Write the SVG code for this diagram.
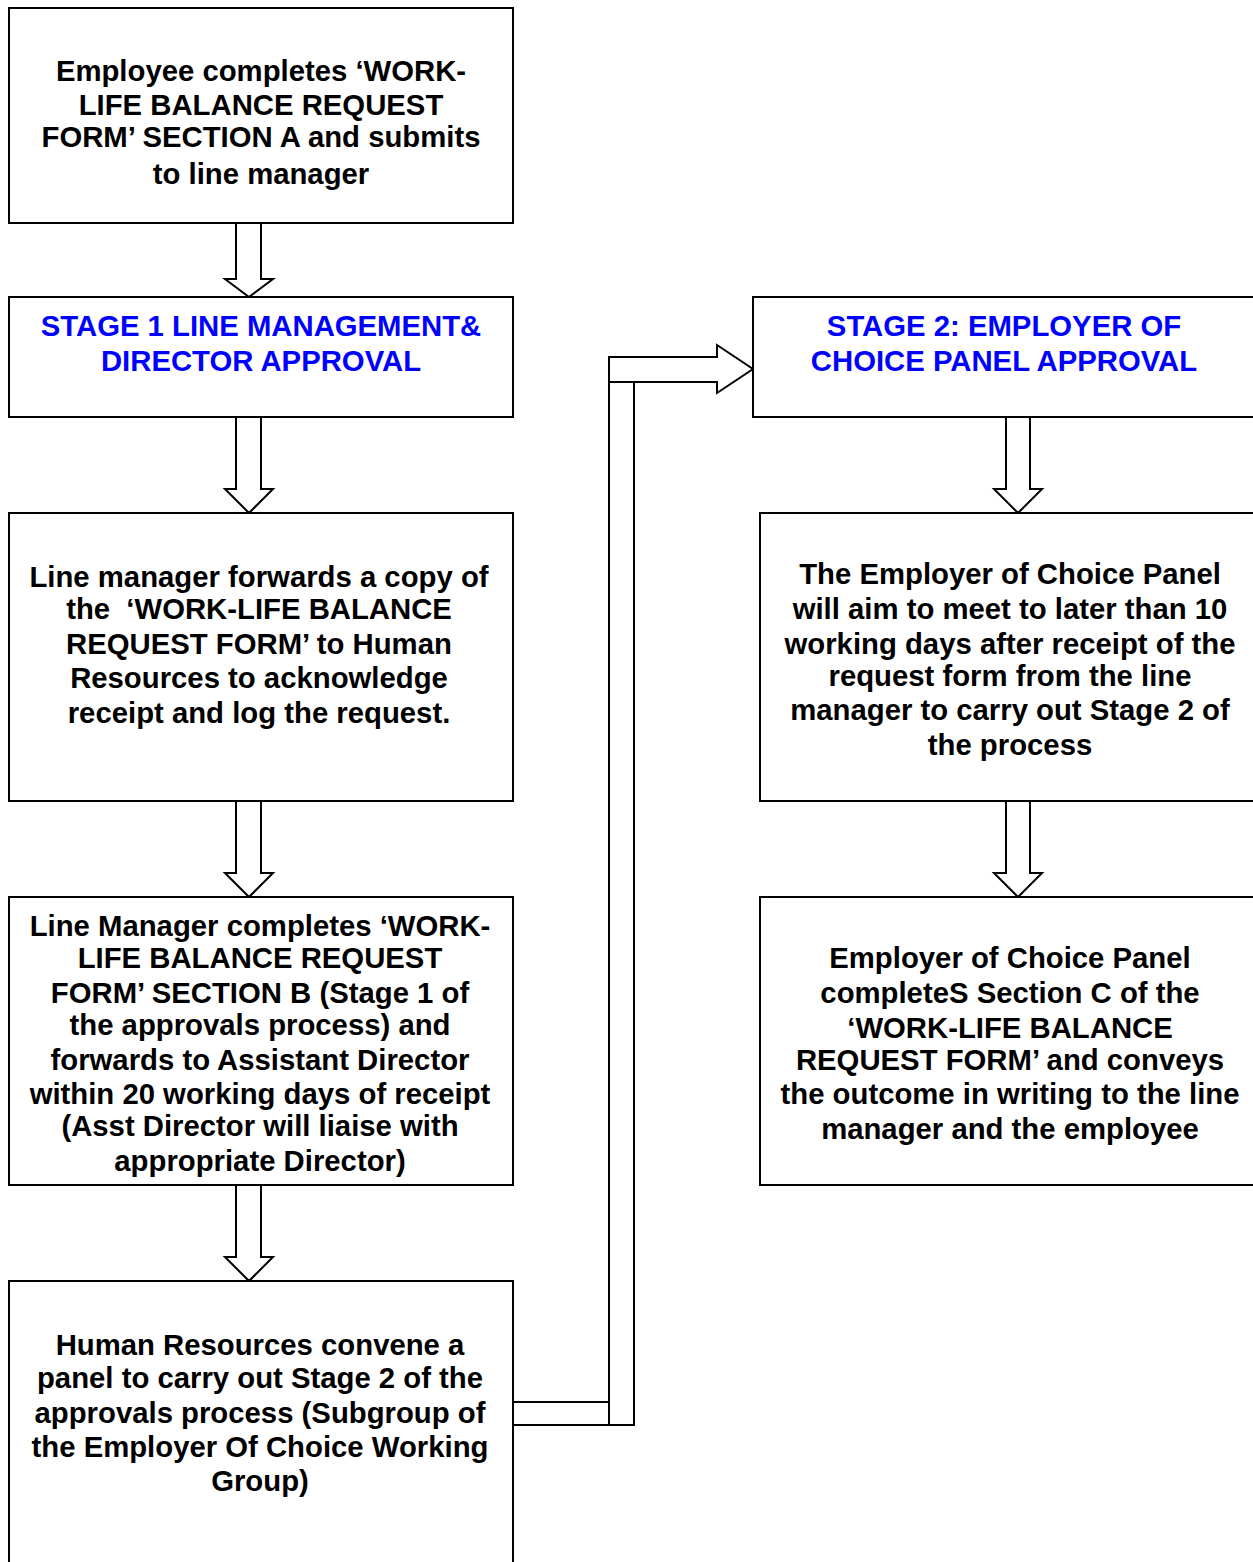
<svg xmlns="http://www.w3.org/2000/svg" width="1253" height="1562" viewBox="0 0 1253 1562">
<style>
.box{fill:#fff;stroke:#000;stroke-width:2}
.t{font-family:"Liberation Sans",Arial,sans-serif;font-weight:bold;font-size:29.3px;text-anchor:middle;fill:#000;white-space:pre}
.b{fill:#0000ff}
.arr{fill:#fff;stroke:#000;stroke-width:2;stroke-linejoin:miter}
</style>
<rect width="1253" height="1562" fill="#fff"/>
<g id="connectors">
<path class="arr" d="M236,223 L261,223 L261,279 L273,279 L249,297 L225,279 L236,279 Z"/>
<path class="arr" d="M236,417 L261,417 L261,489 L273,489 L249,513 L225,489 L236,489 Z"/>
<path class="arr" d="M236,801 L261,801 L261,873 L273,873 L249,897 L225,873 L236,873 Z"/>
<path class="arr" d="M236,1185 L261,1185 L261,1257 L273,1257 L249,1281 L225,1257 L236,1257 Z"/>
<path class="arr" d="M1006,417 L1030,417 L1030,489 L1042,489 L1018,513 L994,489 L1006,489 Z"/>
<path class="arr" d="M1006,801 L1030,801 L1030,873 L1042,873 L1018,897 L994,873 L1006,873 Z"/>
<path class="arr" d="M513,1402 L609,1402 L609,357 L717,357 L717,345 L753,369 L717,393 L717,382 L634,382 L634,1425 L513,1425 Z"/>
<path fill="none" stroke="#000" stroke-width="2" d="M609,382 L634,382 M609,1402 L609,1425"/>
</g>
<g id="n1">
<rect class="box" x="9" y="8" width="504" height="215"/>
<text class="t"><tspan x="261" y="81">Employee completes ‘WORK-</tspan><tspan x="261" y="115">LIFE BALANCE REQUEST</tspan><tspan x="261" y="147">FORM’ SECTION A and submits</tspan><tspan x="261" y="184">to line manager</tspan></text>
</g>
<g id="n2">
<rect class="box" x="9" y="297" width="504" height="120"/>
<text class="t b"><tspan x="261" y="336">STAGE 1 LINE MANAGEMENT&amp;</tspan><tspan x="261" y="371">DIRECTOR APPROVAL</tspan></text>
</g>
<g id="n3">
<rect class="box" x="9" y="513" width="504" height="288"/>
<text class="t"><tspan x="259" y="587">Line manager forwards a copy of</tspan><tspan x="259" y="619">the  ‘WORK-LIFE BALANCE</tspan><tspan x="259" y="654">REQUEST FORM’ to Human</tspan><tspan x="259" y="688">Resources to acknowledge</tspan><tspan x="259" y="723">receipt and log the request.</tspan></text>
</g>
<g id="n4">
<rect class="box" x="9" y="897" width="504" height="288"/>
<text class="t"><tspan x="260" y="936">Line Manager completes ‘WORK-</tspan><tspan x="260" y="968">LIFE BALANCE REQUEST</tspan><tspan x="260" y="1003">FORM’ SECTION B (Stage 1 of</tspan><tspan x="260" y="1035">the approvals process) and</tspan><tspan x="260" y="1070">forwards to Assistant Director</tspan><tspan x="260" y="1104">within 20 working days of receipt</tspan><tspan x="260" y="1136">(Asst Director will liaise with</tspan><tspan x="260" y="1171">appropriate Director)</tspan></text>
</g>
<g id="n5">
<rect class="box" x="9" y="1281" width="504" height="300"/>
<text class="t"><tspan x="260" y="1355">Human Resources convene a</tspan><tspan x="260" y="1388">panel to carry out Stage 2 of the</tspan><tspan x="260" y="1423">approvals process (Subgroup of</tspan><tspan x="260" y="1457">the Employer Of Choice Working</tspan><tspan x="260" y="1491">Group)</tspan></text>
</g>
<g id="n6">
<rect class="box" x="753" y="297" width="520" height="120"/>
<text class="t b"><tspan x="1004" y="336">STAGE 2: EMPLOYER OF</tspan><tspan x="1004" y="371">CHOICE PANEL APPROVAL</tspan></text>
</g>
<g id="n7">
<rect class="box" x="760" y="513" width="513" height="288"/>
<text class="t"><tspan x="1010" y="584">The Employer of Choice Panel</tspan><tspan x="1010" y="619">will aim to meet to later than 10</tspan><tspan x="1010" y="654">working days after receipt of the</tspan><tspan x="1010" y="686">request form from the line</tspan><tspan x="1010" y="720">manager to carry out Stage 2 of</tspan><tspan x="1010" y="755">the process</tspan></text>
</g>
<g id="n8">
<rect class="box" x="760" y="897" width="513" height="288"/>
<text class="t"><tspan x="1010" y="968">Employer of Choice Panel</tspan><tspan x="1010" y="1003">completeS Section C of the</tspan><tspan x="1010" y="1038">‘WORK-LIFE BALANCE</tspan><tspan x="1010" y="1070">REQUEST FORM’ and conveys</tspan><tspan x="1010" y="1104">the outcome in writing to the line</tspan><tspan x="1010" y="1139">manager and the employee</tspan></text>
</g>
</svg>
